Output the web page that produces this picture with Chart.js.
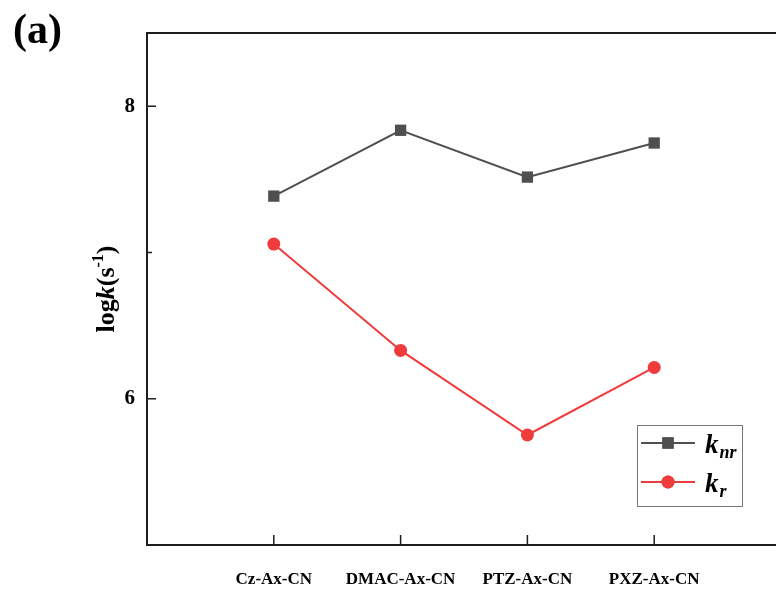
<!DOCTYPE html>
<html>
<head>
<meta charset="utf-8">
<script src="https://cdn.jsdelivr.net/npm/chart.js@4.4.1/dist/chart.umd.min.js"></script>
<style>
  html, body { margin: 0; padding: 0; background: #fff; overflow: hidden; }
  #wrap { width: 790px; height: 589px; }
</style>
</head>
<body>
<div id="wrap"><canvas id="c" width="790" height="589"></canvas></div>
<script>
// data
const categories = ["Cz-Ax-CN", "DMAC-Ax-CN", "PTZ-Ax-CN", "PXZ-Ax-CN"];
const knrValues = [7.385, 7.835, 7.515, 7.748];
const krValues = [7.057, 6.330, 5.752, 6.214];
const yTicks = [6, 7, 8];
const yLabelTicks = [6, 8];

const grey = '#4f4f4f';
const red = '#ef3b3b';
const serif = '"Liberation Serif", "Times New Roman", serif';

// frame, inward ticks, axis title, panel label and legend
const decor = {
  id: 'decor',
  afterDraw(chart) {
    const ctx = chart.ctx;
    const a = chart.chartArea;
    const xs = chart.scales.x, ys = chart.scales.y;
    ctx.save();
    ctx.strokeStyle = '#1e1e1e';
    ctx.lineWidth = 2;
    ctx.beginPath();
    ctx.moveTo(a.right + 5, a.top);
    ctx.lineTo(a.left, a.top);
    ctx.lineTo(a.left, a.bottom);
    ctx.lineTo(a.right + 5, a.bottom);
    ctx.stroke();

    ctx.lineWidth = 1.5;
    ctx.beginPath();
    yTicks.forEach(v => {
      const py = ys.getPixelForValue(v);
      const len = yLabelTicks.includes(v) ? 9 : 5;
      ctx.moveTo(a.left, py);
      ctx.lineTo(a.left + len, py);
    });
    categories.forEach((c, i) => {
      const px = xs.getPixelForValue(i + 1);
      ctx.moveTo(px, a.bottom);
      ctx.lineTo(px, a.bottom - 10);
    });
    ctx.stroke();

    // panel label
    ctx.fillStyle = '#000';
    ctx.font = 'bold 42px ' + serif;
    ctx.textAlign = 'left';
    ctx.textBaseline = 'alphabetic';
    ctx.fillText('(a)', 13, 43);

    // y axis title: logk(s^-1)
    ctx.save();
    ctx.translate(114, 289);
    ctx.rotate(-Math.PI / 2);
    const parts = [
      { t: 'log', f: 'bold 26px ' + serif, dy: 0 },
      { t: 'k', f: 'italic bold 26px ' + serif, dy: 0 },
      { t: '(s', f: 'bold 26px ' + serif, dy: 0 },
      { t: '-1', f: 'bold 16px ' + serif, dy: -11 },
      { t: ')', f: 'bold 26px ' + serif, dy: 0 }
    ];
    let total = 0;
    parts.forEach(p => { ctx.font = p.f; p.w = ctx.measureText(p.t).width; total += p.w; });
    let x = -total / 2;
    parts.forEach(p => { ctx.font = p.f; ctx.fillText(p.t, x, p.dy); x += p.w; });
    ctx.restore();

    // legend
    ctx.strokeStyle = '#777';
    ctx.lineWidth = 1;
    ctx.strokeRect(637.5, 425.5, 105, 81);
    const rows = [
      { y: 443, color: grey, style: 'rect', r: 8, sub: 'nr' },
      { y: 482, color: red, style: 'circle', r: 6.5, sub: 'r' }
    ];
    rows.forEach(row => {
      ctx.strokeStyle = row.color;
      ctx.fillStyle = row.color;
      ctx.lineWidth = 2;
      ctx.beginPath();
      ctx.moveTo(641, row.y);
      ctx.lineTo(695, row.y);
      ctx.stroke();
      Chart.helpers.drawPoint(ctx, { pointStyle: row.style, radius: row.r, rotation: 0, borderWidth: 0 }, 668, row.y);
      ctx.fill();
      ctx.fillStyle = '#000';
      ctx.font = 'italic bold 27px ' + serif;
      ctx.fillText('k', 705, row.y + 10);
      const kw = ctx.measureText('k').width;
      ctx.font = 'italic bold 18px ' + serif;
      ctx.fillText(row.sub, 705 + kw + 1, row.y + 15);
    });
    ctx.restore();
  }
};

new Chart(document.getElementById('c'), {
  type: 'line',
  data: {
    datasets: [
      {
        label: 'knr',
        data: knrValues.map((v, i) => ({ x: i + 1, y: v })),
        borderColor: grey,
        backgroundColor: grey,
        borderWidth: 2,
        pointStyle: 'rect',
        pointRadius: 8,
        pointBorderWidth: 0,
        tension: 0
      },
      {
        label: 'kr',
        data: krValues.map((v, i) => ({ x: i + 1, y: v })),
        borderColor: red,
        backgroundColor: red,
        borderWidth: 2,
        pointStyle: 'circle',
        pointRadius: 6.5,
        pointBorderWidth: 0,
        tension: 0
      }
    ]
  },
  options: {
    responsive: false,
    animation: false,
    layout: { padding: { top: 33, right: 9, left: 0, bottom: 0 } },
    plugins: { legend: { display: false }, tooltip: { enabled: false } },
    scales: {
      x: {
        type: 'linear',
        min: 0,
        max: 5,
        afterBuildTicks: s => { s.ticks = categories.map((c, i) => ({ value: i + 1 })); },
        afterFit: s => { s.height = 44; },
        grid: { display: false, drawTicks: false },
        border: { display: false },
        ticks: {
          padding: 24,
          color: '#000',
          font: { family: serif, size: 17, weight: 'bold' },
          callback: v => categories[v - 1] || ''
        }
      },
      y: {
        type: 'linear',
        min: 5,
        max: 8.5,
        afterBuildTicks: s => { s.ticks = yTicks.map(v => ({ value: v })); },
        afterFit: s => { s.width = 147; },
        grid: { display: false, drawTicks: false },
        border: { display: false },
        ticks: {
          padding: 12,
          color: '#000',
          font: { family: serif, size: 21, weight: 'bold' },
          callback: v => yLabelTicks.includes(v) ? String(v) : ''
        }
      }
    }
  },
  plugins: [decor]
});
</script>
</body>
</html>
